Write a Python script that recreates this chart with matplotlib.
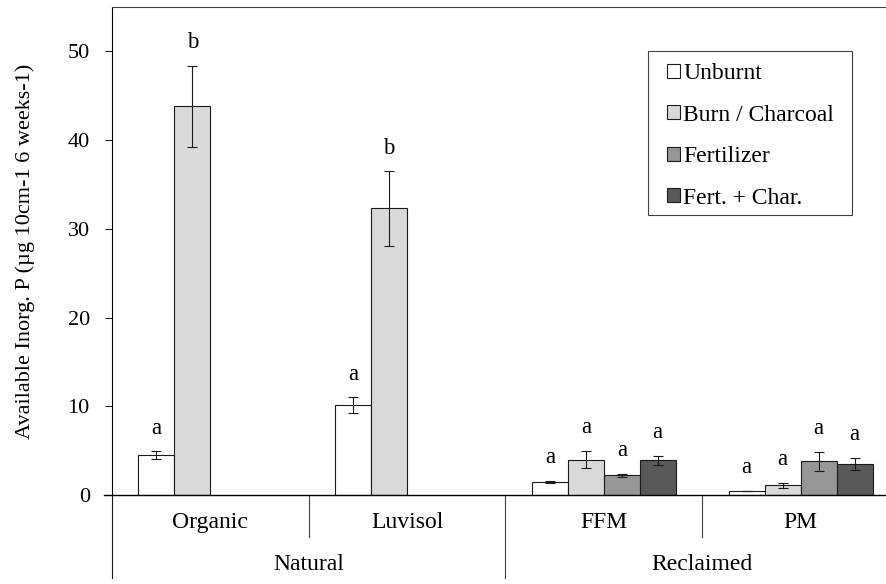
import numpy as np
import matplotlib
matplotlib.use("Agg")
import matplotlib.pyplot as plt
from matplotlib.patches import Patch, Rectangle
import matplotlib.transforms as mtransforms

plt.rcParams['font.family'] = ['Liberation Serif', 'DejaVu Serif']
plt.rcParams['font.size'] = 16

# Datos: fósforo inorgánico disponible por suelo y tratamiento
suelos = ["Organic", "Luvisol", "FFM", "PM"]
grupos = ["Natural", "Reclaimed"]
tratamientos = ["Unburnt", "Burn / Charcoal", "Fertilizer", "Fert. + Char."]

unburnt = [4.5, 10.1, 1.5, 0.45]
burn = [43.8, 32.3, 4.0, 1.1]
fert = [np.nan, np.nan, 2.2, 3.8]
fert_char = [np.nan, np.nan, 3.9, 3.5]

err_unburnt = [0.45, 0.9, 0.1, 0.0]
err_burn = [4.6, 4.2, 1.0, 0.3]
err_fert = [np.nan, np.nan, 0.2, 1.1]
err_fert_char = [np.nan, np.nan, 0.5, 0.7]

letras_unburnt = ["a", "a", "a", "a"]
letras_burn = ["b", "b", "a", "a"]
letras_fert = ["", "", "a", "a"]
letras_fert_char = ["", "", "a", "a"]

colores = ["#ffffff", "#d9d9d9", "#969696", "#595959"]

valores = [unburnt, burn, fert, fert_char]
errores = [err_unburnt, err_burn, err_fert, err_fert_char]
letras = [letras_unburnt, letras_burn, letras_fert, letras_fert_char]

fig = plt.figure(figsize=(8.87, 5.84), dpi=100)
ax = fig.add_axes([112 / 887, 1 - 495 / 584, 787 / 887, 488 / 584])

x = np.arange(len(suelos))
w = 36 / 197

for i in range(4):
    pos = x + (i - 1.5) * w
    ax.bar(pos, valores[i], width=w, color=colores[i], edgecolor="#1a1a1a",
           linewidth=0.8, zorder=2)
    ax.errorbar(pos, valores[i], yerr=errores[i], fmt="none", ecolor="#1a1a1a",
                elinewidth=0.8, capsize=3.6, capthick=0.8, zorder=3)
    for p, v, e, t in zip(pos, valores[i], errores[i], letras[i]):
        if t:
            ax.text(p, v + e + 2.6, t, ha="center", va="center", fontsize=16.5)

ax.set_xlim(-0.5, 3.5)
ax.set_ylim(0, 55)
ax.set_yticks([0, 10, 20, 30, 40, 50])
ax.set_xticks([])
ax.tick_params(axis="y", direction="out", length=5, width=0.8, pad=11,
               color="#1a1a1a")

ax.spines["right"].set_visible(False)
ax.spines["top"].set_color("#404040")
ax.spines["top"].set_linewidth(0.8)
ax.spines["left"].set_linewidth(0.8)
ax.spines["bottom"].set_linewidth(1.0)
ax.spines["bottom"].set_bounds(-0.5 - 0.04, 3.5)

ax.set_ylabel("Available Inorg. P (µg 10cm-1 6 weeks-1)", fontsize=16)
ax.yaxis.set_label_coords(-0.098, 0.5)

# Eje x en dos niveles: suelo y grupo
trans = mtransforms.blended_transform_factory(ax.transData, ax.transAxes)
ax.plot([-0.5, -0.5], [0, -0.17], transform=trans, color="#1a1a1a",
        lw=0.8, clip_on=False)
for xs, y0 in [(0.5, -0.086), (1.5, -0.17), (2.5, -0.086)]:
    ax.plot([xs, xs], [0, y0], transform=trans, color="#404040",
            lw=0.8, clip_on=False)
for xi, s in zip(x, suelos):
    ax.text(xi, -0.057, s, transform=trans, ha="center", va="center",
            fontsize=17)
ax.text(0.5, -0.143, grupos[0], transform=trans, ha="center", va="center",
        fontsize=17)
ax.text(2.5, -0.143, grupos[1], transform=trans, ha="center", va="center",
        fontsize=17)

# Leyenda con marco rectangular propio
handles = [Patch(facecolor=c, edgecolor="#1a1a1a", linewidth=0.8)
           for c in colores]
leg = fig.legend(handles, tratamientos, loc="upper left",
                 bbox_to_anchor=(667 / 887, 1 - 63 / 584),
                 frameon=False, handlelength=0.55, handleheight=0.55,
                 handletextpad=0.13, labelspacing=0.87, borderpad=0,
                 borderaxespad=0, fontsize=17)
fig.patches.append(Rectangle((648 / 887, 1 - 215 / 584), 204 / 887, 164 / 584,
                             transform=fig.transFigure, fill=False,
                             edgecolor="#404040", linewidth=0.8))

fig.savefig("out.png", dpi=100)
